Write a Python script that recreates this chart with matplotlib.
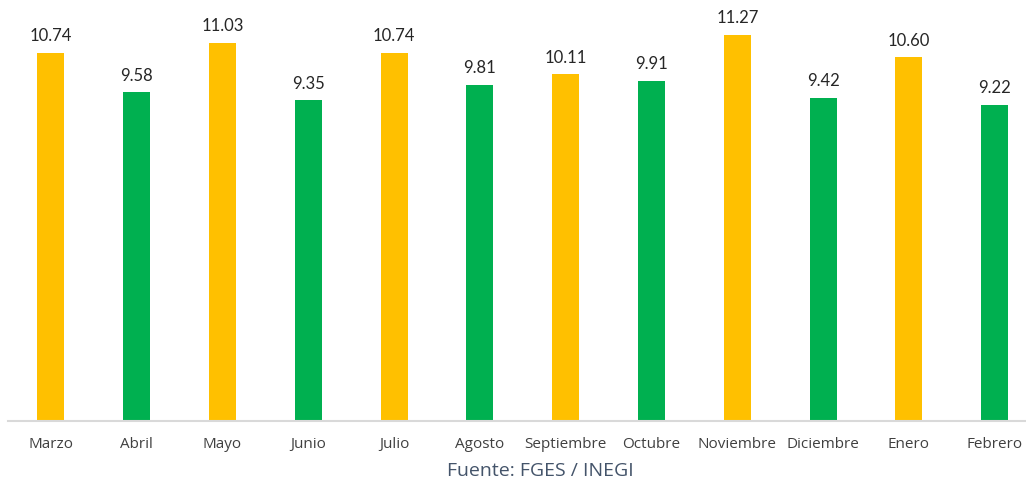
import matplotlib
matplotlib.use("Agg")
import matplotlib.pyplot as plt

months = ["Marzo", "Abril", "Mayo", "Junio", "Julio", "Agosto", "Septiembre",
          "Octubre", "Noviembre", "Diciembre", "Enero", "Febrero"]
values = [10.74, 9.58, 11.03, 9.35, 10.74, 9.81, 10.11, 9.91, 11.27, 9.42, 10.60, 9.22]
colors = ["#FFC000", "#00B050", "#FFC000", "#00B050", "#FFC000", "#00B050",
          "#FFC000", "#00B050", "#FFC000", "#00B050", "#FFC000", "#00B050"]
labels = ["10.74", "9.58", "11.03", "9.35", "10.74", "9.81", "10.11", "9.91",
          "11.27", "9.42", "10.60", "9.22"]

W, H = 1026, 485
fig = plt.figure(figsize=(W / 100, H / 100), dpi=100)
left_px, step_px = 8, 85.8
base_px = 421.5
ax = fig.add_axes([left_px / W, (H - base_px) / H, 12 * step_px / W, base_px / H])

x = list(range(len(months)))
ax.bar(x, values, width=0.315, color=colors)
ax.set_xlim(-0.5, 11.5)
ax.set_ylim(0, base_px / 34.25)

for xi, v, lab in zip(x, values, labels):
    ax.annotate(lab, (xi, v), xytext=(0, 7), textcoords="offset points",
                ha="center", va="bottom", fontsize=12, color="#262626",
                family="Lato")

for s in ["top", "right", "left"]:
    ax.spines[s].set_visible(False)
ax.spines["bottom"].set_color("#D9D9D9")
ax.spines["bottom"].set_linewidth(1.5)
ax.set_yticks([])
ax.set_xticks(x)
ax.set_xticklabels(months, fontsize=11, color="#404040", family="Open Sans")
ax.tick_params(axis="x", length=0, pad=11)

fig.text(540 / W, 1 - 471 / H, "Fuente: FGES / INEGI", ha="center", va="center",
         fontsize=14, color="#44546A", family="Open Sans")

fig.savefig("out.png", dpi=100)
